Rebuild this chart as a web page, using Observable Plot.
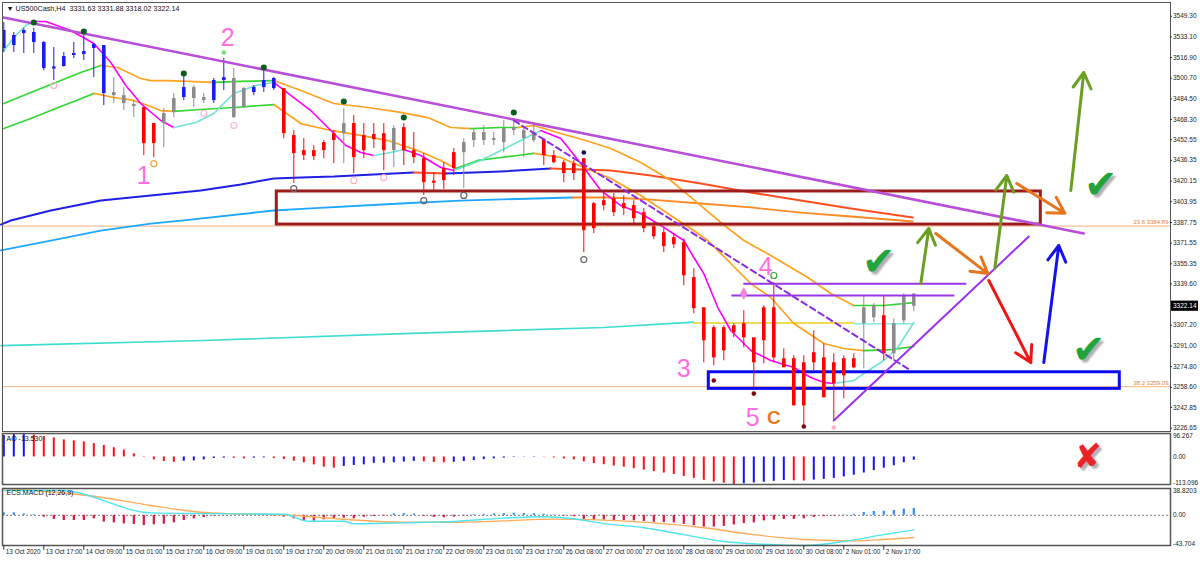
<!DOCTYPE html>
<html><head><meta charset="utf-8">
<script src="https://cdn.jsdelivr.net/npm/d3@7"></script>
<script src="https://cdn.jsdelivr.net/npm/@observablehq/plot@0.6"></script>
<style>
body{margin:0;background:#fff;}
#chart{position:relative;width:1200px;height:562px;background:#fff;overflow:hidden;}
#chart svg{position:absolute;left:0;overflow:visible;background:transparent;}
</style></head><body><div id="chart"></div>
<script>
// ---------------- DATA ----------------
const symbol = "US500Cash,H4";
const barOpen  = [3524.0,3534.2,3535.7,3536.5,3528.7,3508.3,3509.9,3518.5,3519.3,3524.0,3526.3,3489.5,3487.1,3480.1,3477.7,3449.5,3465.2,3473.8,3485.6,3493.4,3485.6,3483.2,3498.9,3500.5,3477.7,3489.5,3493.4,3500.5,3492.6,3455.8,3444.0,3439.3,3444.0,3451.9,3457.3,3465.2,3444.0,3456.6,3457.3,3444.0,3462.0,3444.0,3437.7,3418.9,3420.5,3429.9,3442.4,3451.9,3458.1,3451.9,3450.3,3459.7,3459.7,3451.9,3452.6,3440.1,3434.6,3426.0,3437.7,3382.9,3400.9,3406.4,3398.5,3400.9,3395.4,3384.4,3379.7,3375.8,3371.9,3344.5,3320.9,3305.3,3287.2,3306.8,3297.4,3297.4,3295.1,3320.9,3281.0,3281.0,3244.1,3277.8,3281.7,3261.4,3281.0,3273.9,3308.4,3322.5,3314.7,3284.9,3310.7,3331.63];
const barHigh  = [3544.4,3536.5,3539.7,3539.7,3529.5,3524.8,3520.8,3528.7,3535.7,3527.9,3526.3,3501.2,3493.4,3483.2,3477.7,3465.2,3476.9,3488.7,3505.2,3495.0,3488.7,3500.5,3516.1,3508.3,3493.4,3495.0,3506.7,3501.2,3492.6,3459.7,3453.4,3447.9,3451.9,3459.7,3476.9,3471.5,3465.2,3465.2,3465.2,3463.6,3465.2,3458.1,3441.7,3426.8,3434.6,3445.6,3453.4,3461.3,3463.6,3458.1,3467.5,3469.1,3461.3,3463.6,3453.4,3444.0,3436.2,3436.2,3437.7,3403.3,3410.3,3410.3,3408.7,3404.8,3398.6,3387.6,3382.9,3379.0,3375.0,3351.5,3320.9,3306.8,3306.8,3308.4,3318.6,3297.4,3322.5,3340.5,3288.8,3283.3,3283.3,3302.9,3292.7,3284.9,3283.3,3284.9,3330.4,3324.1,3330.4,3312.3,3331.9,3331.88];
const barLow   = [3520.8,3520.8,3520.1,3520.1,3506.7,3498.9,3509.3,3516.1,3514.6,3501.2,3479.3,3480.9,3475.4,3469.9,3440.1,3438.5,3446.4,3469.9,3483.2,3477.7,3480.9,3480.9,3491.1,3469.1,3476.9,3487.1,3489.5,3491.1,3453.4,3418.2,3436.2,3436.2,3437.7,3433.8,3433.8,3426.0,3437.7,3445.6,3428.3,3430.7,3432.3,3433.8,3408.7,3412.7,3413.4,3424.4,3414.2,3446.4,3447.9,3447.9,3442.4,3455.8,3438.5,3450.3,3432.3,3433.8,3418.9,3420.5,3364.1,3379.0,3397.0,3392.3,3393.1,3386.0,3379.7,3374.2,3364.1,3367.2,3338.2,3316.2,3277.8,3275.5,3279.4,3297.4,3289.6,3258.2,3277.0,3277.8,3273.9,3244.1,3226.9,3271.5,3250.4,3232.4,3249.6,3273.1,3273.1,3309.2,3279.4,3279.4,3308.4,3318.02];
const barClose = [3538.1,3526.3,3538.1,3528.7,3508.3,3509.1,3517.7,3520.1,3521.6,3527.1,3488.7,3487.1,3480.9,3478.5,3449.5,3465.2,3473.0,3484.8,3493.4,3484.8,3483.2,3498.9,3501.2,3469.9,3492.6,3493.4,3498.9,3492.6,3457.3,3441.7,3440.1,3444.0,3450.3,3457.3,3465.2,3438.5,3455.8,3452.6,3444.0,3461.3,3444.0,3438.5,3418.9,3419.7,3429.9,3442.4,3450.3,3458.1,3451.9,3453.4,3461.3,3462.0,3453.4,3458.1,3440.1,3434.6,3426.0,3433.8,3381.3,3402.5,3404.8,3395.4,3402.5,3390.7,3382.9,3376.6,3368.8,3370.3,3346.0,3320.2,3295.1,3281.7,3305.3,3301.3,3308.4,3277.8,3320.9,3281.7,3273.9,3244.1,3277.8,3285.7,3250.4,3277.8,3267.6,3281.0,3320.9,3313.1,3284.9,3308.4,3330.4,3322.14];
// candle colour state: b = up-trend (blue), r = down-trend (red), g = neutral (grey)
const barState = "bbbbbbbbbbbgggrrggbggbbggbbbrrrrrrgrrrrgrrrrrrggggggggrrrrrrrrrrrrrrrrrrrrrrrrrrrrrrrrggrggg";

const yTickValues = [3549.30,3533.10,3516.90,3500.70,3484.50,3468.30,3452.55,3436.35,3420.15,3403.95,3387.75,3371.55,3355.35,3339.60,3307.20,3291.00,3274.80,3258.60,3242.85,3226.65];
const xTickLabels = ["13 Oct 2020","13 Oct 17:00","14 Oct 09:00","15 Oct 01:00","15 Oct 17:00","16 Oct 09:00","19 Oct 01:00","19 Oct 17:00","20 Oct 09:00","21 Oct 01:00","21 Oct 17:00","22 Oct 09:00","23 Oct 01:00","23 Oct 17:00","26 Oct 08:00","27 Oct 00:00","27 Oct 16:00","28 Oct 08:00","29 Oct 00:00","29 Oct 16:00","30 Oct 08:00","2 Nov 01:00","2 Nov 17:00"];
const xTickBars = [0,4,8,12,16,20,24,28,32,36,40,44,48,52,56,60,64,68,72,76,80,84,88];

const fibLevels = [{level:"23.6", value:3384.89},{level:"38.2", value:3259.09}];

// moving averages: segments of [bar, price] with their trend state
const ema21 = [
 {trend:"up",   pts:[[0,3522.4],[1.2,3534.2],[2.2,3542.0],[3.0,3545.2]]},
 {trend:"down", pts:[[3.0,3545.2],[4.2,3545.2],[6.7,3538.1],[9.0,3527.9],[10.7,3513.0],[12.2,3495.0],[13.7,3480.9],[15.7,3467.6],[17.0,3462.1]]},
 {trend:"up",   pts:[[17.0,3462.1],[19.2,3466.0],[21.0,3473.1],[23.0,3488.8],[25.2,3495.0],[27.0,3497.4]]},
 {trend:"down", pts:[[27.0,3497.4],[28.7,3487.2],[30.7,3475.4],[32.7,3459.8],[34.2,3448.0],[35.7,3442.5],[37.0,3440.2]]},
 {trend:"up",   pts:[[37.0,3440.2],[38.7,3442.5],[40.0,3444.9]]},
 {trend:"down", pts:[[40.0,3444.9],[41.7,3440.2],[43.7,3430.8],[45.0,3428.4]]},
 {trend:"up",   pts:[[45.0,3428.4],[47.7,3436.3],[49.7,3444.1],[51.7,3451.9],[53.7,3459.8]]},
 {trend:"down", pts:[[53.7,3459.8],[55.7,3453.5],[57.7,3433.9],[59.7,3412.8],[61.7,3401.0],[63.7,3394.8],[65.7,3385.4],[68.0,3373.6],[69.0,3360.3],[70.0,3347.7],[71.4,3321.1],[72.7,3303.1],[74.7,3287.4],[76.7,3279.6],[79.0,3274.1],[80.7,3266.3],[82.0,3262.4],[83.0,3261.6]]},
 {trend:"up",   pts:[[83.0,3261.6],[85.0,3263.9],[86.0,3269.4],[88.0,3279.6],[89.4,3289.8],[91.0,3309.4]]}
];
const channelHigh = [
 {trend:"up",   pts:[[0,3480.9],[2.7,3489.5],[5.7,3498.9],[7.7,3505.2],[9.7,3510.7]]},
 {trend:"down", pts:[[9.7,3510.7],[11.4,3509.1],[13.7,3500.5],[14.7,3498.9],[16.4,3498.9],[21.0,3497.4]]},
 {trend:"up",   pts:[[21.0,3497.4],[23.7,3498.2],[27.0,3498.9]]},
 {trend:"down", pts:[[27.0,3498.9],[29.7,3491.1],[33.0,3480.9],[36.4,3477.8],[39.7,3473.9],[42.4,3469.9],[44.7,3462.1],[46.7,3461.3]]},
 {trend:"up",   pts:[[46.7,3461.3],[49.7,3462.1],[51.4,3462.1]]},
 {trend:"down", pts:[[51.4,3462.1],[53.0,3463.7],[55.7,3457.4],[58.2,3451.9],[60.7,3445.7],[63.7,3434.7],[66.7,3420.6],[69.7,3401.0],[71.7,3387.7],[74.0,3373.6],[76.7,3361.9],[80.4,3344.6],[82.7,3332.1],[85.0,3322.7]]},
 {trend:"up",   pts:[[85.0,3322.7],[88.0,3322.7],[91.0,3325.0]]}
];
const channelLow = [
 {trend:"up",   pts:[[0,3461.3],[2.7,3469.2],[5.7,3478.6],[8.0,3485.6],[9.0,3488.8]]},
 {trend:"down", pts:[[9.0,3488.8],[11.0,3485.6],[13.0,3483.3],[14.7,3478.6],[15.7,3475.4],[17.0,3474.7]]},
 {trend:"up",   pts:[[17.0,3474.7],[19.7,3476.2],[23.0,3477.8],[27.0,3480.1]]},
 {trend:"down", pts:[[27.0,3480.1],[29.7,3465.2],[32.7,3459.8],[35.7,3455.9],[38.4,3451.9],[41.4,3444.1],[43.7,3436.3],[45.2,3430.0]]},
 {trend:"up",   pts:[[45.2,3430.0],[47.4,3436.3],[49.7,3438.6],[51.4,3440.2],[53.0,3441.8]]},
 {trend:"down", pts:[[53.0,3441.8],[55.7,3438.6],[58.0,3430.8],[60.7,3422.2],[63.7,3408.9],[66.7,3393.2],[68.7,3383.0],[70.4,3373.6],[72.7,3355.6],[74.7,3339.9],[76.7,3329.0],[79.0,3308.6],[82.0,3292.9],[84.0,3289.0],[86.0,3287.4]]},
 {trend:"up",   pts:[[86.0,3287.4],[88.7,3288.2],[91.0,3290.6]]}
];
const sma144 = [
 {trend:"up",   pts:[[-0.3,3386.1],[0.7,3389.3],[4.7,3397.1],[9.7,3404.9],[14.7,3408.9],[19.7,3412.8],[23.7,3417.5],[27.0,3422.2],[29.7,3423.0],[33.0,3423.7],[37.0,3425.3],[41.0,3426.9]]},
 {trend:"down", pts:[[41.0,3426.9],[44.2,3426.1]]},
 {trend:"up",   pts:[[44.2,3426.1],[49.7,3427.7],[54.7,3430.0]]},
 {trend:"down", pts:[[54.7,3430.0],[60.7,3428.4],[64.7,3424.5],[69.7,3418.3],[74.7,3411.2],[79.7,3404.9],[84.7,3398.7],[90.9,3391.6]]}
];
const sma233 = [
 {trend:"up",   pts:[[-0.3,3365.8],[4.7,3373.6],[9.7,3381.4],[14.7,3386.9],[18.0,3389.3],[27.0,3397.1],[30.7,3398.7],[39.7,3402.6],[45.7,3404.9],[56.9,3407.3]]},
 {trend:"down", pts:[[56.9,3407.3],[60.7,3407.3],[64.7,3405.7],[69.7,3402.6],[74.7,3399.5],[79.7,3395.5],[84.7,3392.4],[90.9,3388.5]]}
];
const sma800 = [
 {trend:"up",   pts:[[-0.3,3291.3],[20,3295.3],[40,3300.7],[60,3305.5],[69.0,3309.7]]},
 {trend:"flat", pts:[[69.0,3309.0],[85.0,3309.0]]},
 {trend:"up2",  pts:[[85.0,3308.4],[91.0,3308.4]]}
];

const aoValues = [88,92,96.27,90,84,78,70,66,62,55,47,38,28,13,2,-12,-19,-22,-17.5,-16,-12,-6.5,-5,-5.5,-8,-5,-3.8,-6.5,-10.7,-17.5,-24,-32.5,-42,-46,-39,-35,-32.5,-26,-25.5,-24,-21,-18,-20,-23,-24,-22,-19,-15,-11,-8,-5,-2,-1,1.5,-1,-4,-8,-12,-20,-27,-32,-37,-42,-48,-54,-60,-66,-72,-80,-88,-96,-103,-108,-113.1,-110,-107,-104,-100,-97,-98,-99,-95,-92,-88,-82,-75,-66,-56,-46,-36,-24,-13.53];
const aoState = "bbbrrrrrrrrrrrrrrrbbbbbrrbbrrrrrrrbbbbbbbbrrrbbbbbbbbbrrrrrrrrrrrrrrrrrrrrbbbbbrrbbbbbbbbbbb";
const aoRange = [-113.096, 96.267];

const macdHist = [3.6,3.6,2.2,1.0,-2.7,-6.1,-7.5,-7.5,-7.5,-5.1,-9.9,-10.9,-12.4,-13.3,-14.8,-13.8,-12.9,-10.9,-7.5,-5.1,-3.2,-1.0,-0.5,-0.3,0.3,-0.3,-0.5,-1.0,-2.7,-5.1,-8.5,-8.5,-6.5,-5.1,-4.1,-5.1,-2.7,-1.7,-1.2,2.2,2.5,2.0,-1.5,-3,-3.5,-2.5,-1,0.8,1.5,2.0,2.5,3.0,2.8,2.5,1.5,0.5,-1,-2,-6,-7,-7,-7.5,-7.5,-8,-9,-10,-10.5,-11,-13,-15,-17,-17,-16,-14,-12,-11,-8,-7,-6,-6,-5,-3,-2,-1,0.5,1.5,4,5.5,6,7,9,10];
const macdLine = [[0,36],[5.7,35.9],[14.7,3.6],[20,2.5],[28,1.5],[30.4,-8.5],[34,-8.5],[35,-12.3],[39.7,-10.9],[45,-9],[50,-4],[54,-2],[57,-5],[60,-12],[64,-18],[68,-28],[72,-38],[76,-42],[80,-43.7],[84,-38],[88,-28],[91,-21]];
const signalLine = [[0,38.8],[9.7,26.2],[14.7,14.2],[19.7,4.5],[23,2.2],[28,0.7],[31.4,-2.8],[34.7,-6.5],[39.7,-10],[45,-10],[50,-8],[55,-5.5],[60,-7],[65,-11],[70,-18],[75,-28],[80,-35],[85,-37],[88,-35],[91,-32]];
const macdRange = [-43.704, 38.8203];

// drawn analysis objects (bar, price)
const trendLine = [[-0.03,3548.3],[108.0,3379.1]];
const resistanceZone = {x1:27.3, x2:103.7, top:3412.0, bottom:3386.1};
const supportZone = {x1:70.5, x2:111.6, top:3270.4, bottom:3257.4};
const levelLines = [{x1:74.0, x2:96.3, y:3339.7},{x1:72.8, x2:95.1, y:3330.5}];
const dashedLine = [[51.0,3467.6],[90.7,3271.8]];
const risingLine = [[83.0,3232.6],[102.5,3376.7]];
const arrows = [
 {kind:"green",  x1:91.7, y1:3339.9, x2:92.5, y2:3383.0},
 {kind:"orange", x1:93.2, y1:3379.1, x2:98.4, y2:3347.7},
 {kind:"green",  x1:99.1, y1:3351.7, x2:100.3,y2:3424.5},
 {kind:"orange", x1:101.3,y1:3418.2, x2:106.1,y2:3395.0},
 {kind:"green",  x1:106.7,y1:3412.8, x2:108.0,y2:3505.2},
 {kind:"red",    x1:98.5, y1:3342.3, x2:102.7,y2:3278.0},
 {kind:"blue",   x1:104.0,y1:3278.0, x2:105.5,y2:3369.7}
];
const checks = [{x:87.5, y:3356.4},{x:108.5, y:3287.4},{x:109.7, y:3416.7}];
const crossMark = {x:108.4, ao:0};
const waveLabels = [
 {t:"1", x:14.0, y:3424.5, kind:"wave"},{t:"2", x:22.4, y:3532.6, kind:"wave"},
 {t:"3", x:68.0, y:3273.3, kind:"wave"},{t:"4", x:76.2, y:3352.5, kind:"wave"},
 {t:"5", x:74.9, y:3234.9, kind:"wave"},{t:"C", x:77.0, y:3234.9, kind:"abc"}
];
const fractalHighs = [[3.0,3544.4],[8.0,3537.3],[18.0,3504.4],[26.0,3509.1],[34.0,3482.5],[40.0,3469.9],[51.0,3473.9]];
const fractalLows = [[5.0,3495.0,"pink"],[15.0,3433.9,"orange"],[20.0,3473.1,"pink"],[23.0,3463.7,"pink"],[29.0,3414.3,"grey"],[35.0,3420.6,"pink"],[38.0,3422.9,"pink"],[42.0,3404.9,"grey"],[46.0,3408.9,"grey"],[58.0,3358.7,"grey"],[77.0,3346.2,"green"]];
const pivotDots = [[22.0,3520.9,"lightgreen"],[58.0,3442.5,"navy"],[71.0,3263.9,"darkred"],[75.0,3253.7,"darkred"],[80.0,3227.9,"darkred"],[83.0,3227.1,"pink"]];
const diamond = [[74.0,3332.1]];

// ---------------- STYLE ----------------
const FONT = "Liberation Sans, Arial, sans-serif";
const AXIS_FS = 6.5;
const X_DOMAIN = [-0.13, 116.67];
const stateColor = {b:"#1b1bf5", r:"#ff0000", g:"#8c8c8c"};
const emaColor = {up:"#70e4d2", down:"#ff00ff"};
const chanColor = {up:"#33d633", down:"#ffa21f"};
const s144Color = {up:"#1f1fe6", down:"#ff4f1f"};
const s233Color = {up:"#1fa8ff", down:"#ff8a25"};
const s800Color = {up:"#3fdcd0", flat:"#f2cf1a", up2:"#8ae8e2"};
const arrowColor = {green:"#6a9f22", orange:"#e6761c", red:"#f01414", blue:"#1414e8"};
const dotColor = {pink:"#ffb3c9", orange:"#f3a640", grey:"#666", green:"#3aa03a", lightgreen:"#77e077", navy:"#10105a", darkred:"#7a0c0c"};

const candles = barOpen.map((o,i)=>({i, o, h:barHigh[i], l:barLow[i], c:barClose[i], s:barState[i]}));
const last = candles[candles.length-1];

function segLines(segs, colors, width){
  return segs.map(s => Plot.line(s.pts, {x:d=>d[0], y:d=>d[1], stroke:colors[s.trend], strokeWidth:width}));
}
function bodyLo(d){ return Math.abs(d.o-d.c) < 0.8 ? Math.min(d.o,d.c)-0.4 : Math.min(d.o,d.c); }
function bodyHi(d){ return Math.abs(d.o-d.c) < 0.8 ? Math.max(d.o,d.c)+0.4 : Math.max(d.o,d.c); }
function rightLabel(values, fmt, anchor){
  return Plot.text(values, {y:d=>d, x:X_DOMAIN[1], text:fmt, textAnchor:"start", lineAnchor:anchor, dx:2.5, fontSize:AXIS_FS, fill:"#222"});
}

const mainY = [3224.0, 3560.03];
const main = Plot.plot({
  width:1200, height:432, marginTop:2, marginBottom:1, marginLeft:2, marginRight:30,
  x:{domain:X_DOMAIN, axis:null}, y:{domain:mainY, axis:null}, color:{type:"identity"},
  style:{fontFamily:FONT, background:"transparent", overflow:"visible"},
  marks:[
    Plot.ruleY(fibLevels, {y:"value", stroke:"#f2b27c", strokeWidth:1}),
    Plot.text(fibLevels, {x:X_DOMAIN[1], y:"value", text:d=>`${d.level} ${d.value.toFixed(2)}`, textAnchor:"end", dx:-2, dy:-4, fontSize:6, fill:"#e0853c"}),
    ...segLines(sma800, s800Color, 1.6),
    ...segLines(sma233, s233Color, 1.8),
    ...segLines(sma144, s144Color, 2),
    ...segLines(channelLow, chanColor, 1.7),
    ...segLines(channelHigh, chanColor, 1.7),
    ...segLines(ema21, emaColor, 1.6),
    Plot.rect([resistanceZone], {x1:"x1", x2:"x2", y1:"bottom", y2:"top", fill:"none", stroke:"#9c1b1b", strokeWidth:3}),
    Plot.rect([supportZone], {x1:"x1", x2:"x2", y1:"bottom", y2:"top", fill:"none", stroke:"#0a0af0", strokeWidth:3}),
    Plot.ruleX(candles, {x:"i", y1:"l", y2:"h", stroke:d=>stateColor[d.s], strokeWidth:1}),
    Plot.ruleX(candles, {x:"i", y1:bodyLo, y2:bodyHi, stroke:d=>stateColor[d.s], strokeWidth:3.6}),
    Plot.line(trendLine, {x:d=>d[0], y:d=>d[1], stroke:"#b84fd6", strokeWidth:2.6}),
    Plot.ruleY(levelLines, {x1:"x1", x2:"x2", y:"y", stroke:"#9a35e8", strokeWidth:2}),
    Plot.line(dashedLine, {x:d=>d[0], y:d=>d[1], stroke:"#8a2be2", strokeWidth:2, strokeDasharray:"6,4"}),
    Plot.line(risingLine, {x:d=>d[0], y:d=>d[1], stroke:"#9b30f0", strokeWidth:2}),
    Plot.dot(fractalHighs, {x:d=>d[0], y:d=>d[1], r:2.3, fill:"#0b5d1e", stroke:"#0b5d1e"}),
    Plot.dot(fractalLows, {x:d=>d[0], y:d=>d[1], r:3, fill:"none", stroke:d=>dotColor[d[2]], strokeWidth:1.2}),
    Plot.dot(pivotDots, {x:d=>d[0], y:d=>d[1], r:2.3, fill:d=>dotColor[d[2]]}),
    Plot.dot(diamond, {x:d=>d[0], y:d=>d[1], r:4, symbol:"diamond", fill:"#ee88dd"}),
    Plot.arrow(arrows, {x1:"x1", y1:"y1", x2:"x2", y2:"y2", stroke:d=>arrowColor[d.kind], strokeWidth:3, headLength:9}),
    Plot.text(checks, {x:"x", y:"y", text:()=>"\u2714", fontSize:40, fill:"#22a43c", fontFamily:"DejaVu Sans"}),
    Plot.text(waveLabels.filter(d=>d.kind==="wave"), {x:"x", y:"y", text:"t", fontSize:25, fill:"#ff6ee0", fontFamily:FONT}),
    Plot.text(waveLabels.filter(d=>d.kind==="abc"), {x:"x", y:"y", text:"t", fontSize:19, fontWeight:"bold", fill:"#e87722", fontFamily:FONT}),
    Plot.frame({stroke:"#555", strokeWidth:1}),
    Plot.ruleY(yTickValues, {y:d=>d, x1:X_DOMAIN[1], x2:X_DOMAIN[1]+0.2, stroke:"#333"}),
    rightLabel(yTickValues, d=>d.toFixed(2), "middle"),
    Plot.rect([last], {x1:X_DOMAIN[1]+0.1, x2:X_DOMAIN[1]+2.8, y1:d=>d.c-4, y2:d=>d.c+4, fill:"#000"}),
    Plot.text([last], {x:X_DOMAIN[1], y:"c", text:d=>d.c.toFixed(2), textAnchor:"start", dx:2.5, fontSize:AXIS_FS, fill:"#fff"}),
    Plot.text([`\u25BC ${symbol}  ${last.o.toFixed(2)} ${last.h.toFixed(2)} ${last.l.toFixed(2)} ${last.c.toFixed(2)}`], {frameAnchor:"top-left", textAnchor:"start", lineAnchor:"top", dx:4, dy:3, fontSize:7.2, fill:"#111"})
  ]
});

const aoData = aoValues.map((v,i)=>({i, v, s:aoState[i]}));
const ao = Plot.plot({
  width:1200, height:55, marginTop:2, marginBottom:2, marginLeft:2, marginRight:30,
  x:{domain:X_DOMAIN, axis:null}, y:{domain:aoRange, axis:null}, color:{type:"identity"},
  style:{fontFamily:FONT, background:"transparent", overflow:"visible"},
  marks:[
    Plot.ruleX(aoData, {x:"i", y1:0, y2:"v", stroke:d=>d.s==="b"?"#1414f0":"#ff1010", strokeWidth:2}),
    Plot.text([crossMark], {x:"x", y:"ao", text:()=>"\u2718", fontSize:34, fill:"#e8232a", fontFamily:"DejaVu Sans"}),
    Plot.frame({stroke:"#555", strokeWidth:1.5}),
    rightLabel([aoRange[1]], d=>d.toFixed(3), "top"),
    rightLabel([0], d=>d.toFixed(2), "middle"),
    rightLabel([aoRange[0]], d=>d.toFixed(3), "bottom"),
    Plot.text([`AO ${aoValues[aoValues.length-1].toFixed(3)}`], {frameAnchor:"top-left", textAnchor:"start", lineAnchor:"top", dx:4, dy:3, fontSize:7, fill:"#111"})
  ]
});

const histData = macdHist.map((v,i)=>({i, v}));
const macd = Plot.plot({
  width:1200, height:77, marginTop:3, marginBottom:17, marginLeft:2, marginRight:30,
  x:{domain:X_DOMAIN, axis:null}, y:{domain:macdRange, axis:null}, color:{type:"identity"},
  style:{fontFamily:FONT, background:"transparent", overflow:"visible"},
  marks:[
    Plot.ruleY([0], {stroke:"#777", strokeDasharray:"2,2"}),
    Plot.ruleX(histData, {x:"i", y1:0, y2:"v", stroke:d=>d.v>=0?"#2a8cff":"#e0143c", strokeWidth:2.2}),
    Plot.line(signalLine, {x:d=>d[0], y:d=>d[1], stroke:"#ffac5a", strokeWidth:1.4, curve:"monotone-x"}),
    Plot.line(macdLine, {x:d=>d[0], y:d=>d[1], stroke:"#4fe3ee", strokeWidth:1.4, curve:"monotone-x"}),
    Plot.frame({stroke:"#555", strokeWidth:1.5}),
    rightLabel([macdRange[1]], d=>d.toFixed(4), "top"),
    rightLabel([0], d=>d.toFixed(2), "middle"),
    rightLabel([macdRange[0]], d=>d.toFixed(3), "bottom"),
    Plot.text(["ECS.MACD (12,26,9)"], {frameAnchor:"top-left", textAnchor:"start", lineAnchor:"top", dx:4, dy:2, fontSize:7, fill:"#111"}),
    Plot.ruleX(xTickBars, {x:d=>d, y1:macdRange[0], y2:macdRange[0]-7, stroke:"#333"}),
    Plot.text(xTickBars, {x:d=>d, frameAnchor:"bottom", text:(d,i)=>xTickLabels[i], textAnchor:"start", lineAnchor:"top", dx:2, dy:4, fontSize:6.4, fill:"#222"})
  ]
});

const chart = document.getElementById("chart");
[[main,0],[ao,431],[macd,485]].forEach(([el,top])=>{ el.style.position="absolute"; el.style.top=top+"px"; el.style.left="0px"; chart.appendChild(el); });
// soft drop shadow on the hand-drawn check and cross marks
chart.querySelectorAll("text").forEach(t=>{
  if (t.textContent === "\u2714" || t.textContent === "\u2718") t.style.textShadow = "3px 3px 2px rgba(110,110,110,0.55)";
});
</script></body></html>
